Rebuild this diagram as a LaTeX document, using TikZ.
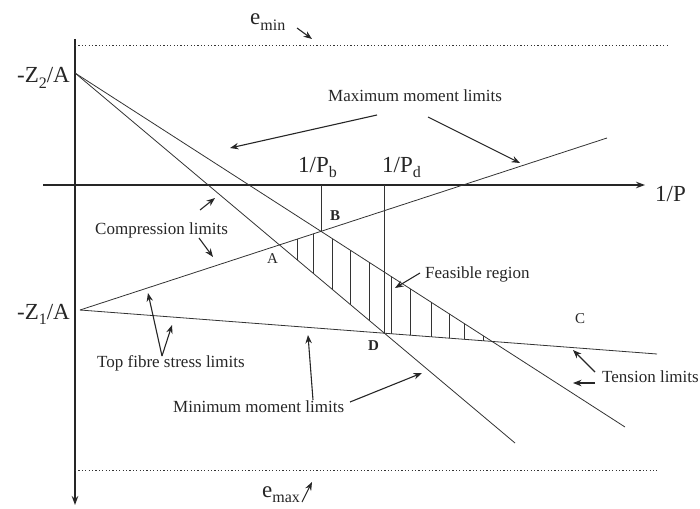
\documentclass[tikz,border=0pt]{standalone}
\usepackage{fontspec}
\setmainfont{Liberation Serif}
\usetikzlibrary{arrows.meta,intersections}
\newcommand{\lsub}[1]{\raisebox{-0.25em}{\fontsize{16}{16}\selectfont #1}}
\tikzset{
  plotline/.style={line width=0.8pt, draw=black!80},
  axisline/.style={line width=1.1pt, draw=black!85},
  ptr/.style={line width=1.1pt, draw=black!85, -{Stealth[length=8.5pt,width=6.5pt]}},
  dotline/.style={line width=0.8pt, draw=black!80, dash pattern=on 1.2pt off 2.2pt},
  biglab/.style={font=\fontsize{23}{26}\selectfont, inner sep=0pt, text=black!85},
  smalllab/.style={font=\fontsize{17}{20}\selectfont, inner sep=0pt, text=black!85},
  ptlab/.style={font=\fontsize{15}{18}\selectfont, inner sep=0pt, text=black!85},
  hatchline/.style={line width=0.7pt, draw=black!80}
}
\begin{document}
\begin{tikzpicture}[x=1pt,y=-1pt]
\useasboundingbox (0,0) rectangle (700,508);
% axes
\coordinate (vtop) at (75,39);
\coordinate (vbot) at (75,505);
\coordinate (hleft) at (43,185);
\coordinate (hright) at (645,185);
\draw[axisline,-{Stealth[length=9pt,width=6.5pt]}] (vtop) -- (vbot);
\draw[axisline,-{Stealth[length=9pt,width=6.5pt]}] (hleft) -- (hright);
% eccentricity limits
\coordinate (emina) at (75,45);
\coordinate (eminb) at (668,45);
\coordinate (emaxa) at (75,470);
\coordinate (emaxb) at (657,470);
\draw[dotline] (emina) -- (eminb);
\draw[dotline] (emaxa) -- (emaxb);
% limit lines
\coordinate (Z2) at (75,73);
\coordinate (Z1) at (80,310);
\coordinate (Send) at (515,443);
\coordinate (Mend) at (625,427);
\coordinate (Rend) at (607,138);
\coordinate (Tend) at (657,354);
\draw[plotline,name path=S] (Z2) -- (Send);
\draw[plotline,name path=M] (Z2) -- (Mend);
\draw[plotline,name path=R] (Z1) -- (Rend);
\draw[plotline,name path=T] (Z1) -- (Tend);
\path[name intersections={of=S and R,by=A}];
\path[name intersections={of=M and R,by=B}];
\path[name intersections={of=M and T,by=C}];
\path[name intersections={of=S and T,by=D}];
% hatching of feasible region
\begin{scope}
  \clip (A) -- (B) -- (C) -- (D) -- cycle;
  \foreach \hx in {297,313,332,350,369,391,410,431,449,464,483}
    \draw[hatchline] (\hx,150) -- (\hx,400);
\end{scope}
% 1/P_b and 1/P_d verticals
\draw[plotline] (B |- hleft) -- (B);
\draw[plotline] (D |- hleft) -- (D);
% axis and point labels
\node[biglab,anchor=base west] (lemin) at (250,25) {e\lsub{min}};
\node[biglab,anchor=base west] (lemax) at (262,497) {e\lsub{max}};
\node[biglab,anchor=base east] (lz2) at (70,83) {-Z\lsub{2}/A};
\node[biglab,anchor=base east] (lz1) at (70,319) {-Z\lsub{1}/A};
\node[biglab,anchor=base west] (lp) at (655,201) {1/P};
\node[biglab,anchor=base west] (lpb) at (298,172) {1/P\lsub{b}};
\node[biglab,anchor=base west] (lpd) at (382,172) {1/P\lsub{d}};
\node[ptlab,anchor=base west] (la) at (267,263) {A};
\node[ptlab,anchor=base west,font=\fontsize{15}{18}\selectfont\bfseries] (lb) at (330,220) {B};
\node[ptlab,anchor=base west] (lc) at (575,323) {C};
\node[ptlab,anchor=base west,font=\fontsize{15}{18}\selectfont\bfseries] (ld) at (368,350) {D};
% descriptive labels
\node[smalllab,anchor=base west] (lmax) at (328,101) {Maximum moment limits};
\node[smalllab,anchor=base west] (lcomp) at (95,234) {Compression limits};
\node[smalllab,anchor=base west] (lfeas) at (425,278) {Feasible region};
\node[smalllab,anchor=base west] (ltop) at (97,367) {Top fibre stress limits};
\node[smalllab,anchor=base west] (lmin) at (173,412) {Minimum moment limits};
\node[smalllab,anchor=base west] (lten) at (602,382) {Tension limits};
% pointer end points
\coordinate (eminT) at (297,28);   \coordinate (eminH) at (312,39);
\coordinate (emaxT) at (302,502);  \coordinate (emaxH) at (312,482);
\coordinate (mx1T) at (377,115);   \coordinate (mx1H) at (230,148);
\coordinate (mx2T) at (428,117);   \coordinate (mx2H) at (520,163);
\coordinate (cp1T) at (200,210);   \coordinate (cp1H) at (215,198);
\coordinate (cp2T) at (199,238);   \coordinate (cp2H) at (213,257);
\coordinate (feT) at (420,273);    \coordinate (feH) at (395,288);
\coordinate (tfT) at (162,356);
\coordinate (tf1H) at (148,293);   \coordinate (tf2H) at (172,325);
\coordinate (mn1T) at (313,400);   \coordinate (mn1H) at (308,335);
\coordinate (mn2T) at (350,402);   \coordinate (mn2H) at (422,373);
\coordinate (tn1T) at (595,372);   \coordinate (tn1H) at (573,350);
\coordinate (tn2T) at (595,383);   \coordinate (tn2H) at (573,383);
% pointers
\draw[ptr] (eminT) -- (eminH);
\draw[ptr] (emaxT) -- (emaxH);
\draw[ptr] (mx1T) -- (mx1H);
\draw[ptr] (mx2T) -- (mx2H);
\draw[ptr] (cp1T) -- (cp1H);
\draw[ptr] (cp2T) -- (cp2H);
\draw[ptr] (feT) -- (feH);
\draw[ptr] (tfT) -- (tf1H);
\draw[ptr] (tfT) -- (tf2H);
\draw[ptr] (mn1T) -- (mn1H);
\draw[ptr] (mn2T) -- (mn2H);
\draw[ptr] (tn1T) -- (tn1H);
\draw[ptr] (tn2T) -- (tn2H);
\end{tikzpicture}
\end{document}
